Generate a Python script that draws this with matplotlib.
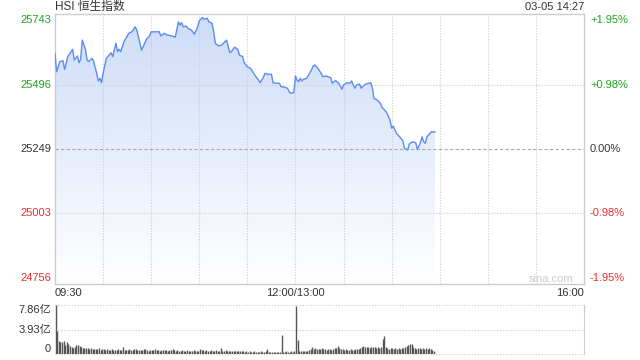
import numpy as np
import matplotlib.pyplot as plt
from matplotlib.colors import LinearSegmentedColormap
from matplotlib.transforms import blended_transform_factory

plt.rcParams['font.family'] = ['Liberation Sans', 'Noto Sans CJK SC', 'DejaVu Sans']

# price readings: minute index since 09:30 (lunch break removed) and index level
minutes = [0, 1, 3, 5, 6, 8, 11, 12, 14, 15, 16, 17, 19, 20, 21, 23, 24, 26, 27, 28,
           29, 30, 32, 33, 35, 36, 38, 39, 40, 41, 43, 46, 48, 50, 51, 53, 54, 55, 57, 59,
           60, 62, 65, 66, 68, 70, 73, 75, 77, 78, 79, 80, 82, 83, 85, 87, 89, 90, 92, 93,
           95, 96, 98, 99, 100, 102, 104, 105, 107, 109, 110, 112, 114, 115, 117, 118, 120, 122, 124, 125,
           127, 128, 130, 131, 133, 135, 136, 138, 140, 141, 143, 145, 146, 147, 149, 150, 151, 152, 153, 154,
           155, 157, 160, 161, 162, 164, 166, 167, 169, 172, 173, 175, 177, 179, 180, 182, 184, 185, 187, 188,
           190, 191, 193, 194, 197, 198, 199, 201, 203, 204, 206, 207, 209, 210, 211, 213, 215, 217, 218, 220,
           221, 223, 225, 226, 228, 229, 230, 231, 232, 234, 235, 237]
prices = [25616, 25545, 25584, 25587, 25554, 25603, 25631, 25590, 25605, 25580, 25593, 25666, 25631, 25590, 25584, 25596, 25587, 25539, 25510, 25520,
          25503, 25539, 25596, 25603, 25618, 25603, 25654, 25622, 25631, 25622, 25660, 25692, 25698, 25717, 25705, 25654, 25628, 25641, 25669, 25682,
          25698, 25698, 25698, 25682, 25692, 25686, 25682, 25677, 25736, 25724, 25733, 25717, 25720, 25711, 25705, 25689, 25717, 25740, 25753, 25746,
          25750, 25736, 25730, 25698, 25654, 25644, 25647, 25654, 25666, 25618, 25622, 25639, 25631, 25609, 25603, 25580, 25564, 25558, 25539, 25529,
          25513, 25503, 25524, 25539, 25535, 25536, 25503, 25501, 25501, 25488, 25486, 25482, 25469, 25463, 25465, 25529, 25513, 25507, 25520, 25510,
          25516, 25520, 25552, 25567, 25571, 25558, 25539, 25526, 25529, 25522, 25501, 25511, 25501, 25478, 25494, 25503, 25501, 25510, 25482, 25494,
          25498, 25482, 25494, 25498, 25503, 25482, 25443, 25437, 25424, 25409, 25396, 25388, 25360, 25329, 25337, 25310, 25296, 25281, 25252, 25246,
          25269, 25277, 25274, 25248, 25274, 25296, 25277, 25271, 25296, 25310, 25316, 25314]

# volume per minute, in 亿
volume = [7.86, 3.70, 2.10, 1.90, 1.95, 2.10, 1.50, 1.85, 1.60, 1.30,
          1.10, 1.00, 1.05, 1.40, 1.40, 1.30, 1.20, 1.00, 0.95, 0.90,
          0.95, 0.80, 0.90, 0.85, 0.80, 0.75, 0.85, 0.90, 0.70, 0.75,
          0.80, 0.70, 0.75, 0.65, 0.70, 0.80, 0.65, 0.70, 0.60, 0.75,
          0.70, 0.65, 1.10, 0.60, 0.70, 0.65, 0.75, 0.60, 0.70, 0.75,
          0.80, 0.65, 0.60, 0.70, 0.65, 0.75, 0.80, 0.60, 0.55, 0.65,
          0.70, 0.60, 0.75, 0.65, 0.60, 0.55, 0.70, 0.60, 0.65, 0.60,
          0.55, 0.65, 0.60, 0.75, 0.60, 0.55, 0.60, 0.50, 0.55, 0.60,
          0.50, 0.55, 0.60, 0.50, 0.55, 0.50, 0.60, 0.55, 0.50, 0.55,
          0.75, 0.60, 0.70, 0.55, 0.60, 0.50, 0.55, 0.60, 0.50, 0.55,
          0.60, 0.55, 0.50, 0.95, 0.55, 0.50, 0.60, 0.55, 0.50, 0.55,
          0.50, 0.45, 0.55, 0.50, 0.45, 0.50, 0.55, 0.45, 0.40, 0.45,
          0.40, 0.45, 0.40, 0.35, 0.45, 0.40, 0.35, 0.40, 0.45, 0.40,
          0.35, 0.50, 0.80, 0.40, 0.35, 0.30, 0.25, 0.35, 0.30, 0.35,
          0.30, 3.00, 0.30, 0.35, 0.45, 0.30, 0.40, 0.55, 0.35, 0.45,
          7.75, 2.20, 0.55, 0.50, 0.45, 0.50, 0.55, 0.45, 0.60, 0.85,
          1.10, 0.80, 0.95, 0.85, 0.75, 0.80, 0.90, 0.75, 0.80, 0.70,
          0.85, 0.75, 0.70, 0.80, 0.90, 1.00, 1.30, 1.00, 0.80, 0.75,
          0.70, 0.75, 0.65, 0.70, 0.75, 0.65, 0.70, 0.80, 0.75, 0.85,
          0.95, 1.15, 1.30, 1.10, 1.05, 1.10, 1.00, 1.15, 1.05, 1.10,
          1.00, 1.10, 0.95, 1.05, 2.40, 2.90, 1.10, 0.95, 0.85, 1.00,
          0.90, 0.85, 0.95, 0.80, 0.90, 0.85, 1.00, 0.90, 1.10, 1.25,
          1.40, 1.55, 1.60, 1.10, 0.95, 0.85, 0.90, 0.95, 0.80, 0.90,
          0.85, 0.95, 0.80, 0.90, 0.75, 0.70, 0.45]

prev_close = 25249
price_ticks = [25743, 25496, 25249, 25003, 24756]
pct_labels = ['+1.95%', '+0.98%', '0.00%', '-0.98%', '-1.95%']
vol_ticks = [7.86, 3.93, 0]
vol_labels = ['7.86亿', '3.93亿', '0']

GREEN = '#1ea31e'
RED = '#f02c2c'
DARK = '#333333'
GRID = '#cccccc'
tick_colors = [GREEN, GREEN, DARK, RED, RED]

fig = plt.figure(figsize=(6.4, 3.6), dpi=100)
ax = fig.add_axes([55 / 640, 1 - 284 / 360, 529 / 640, 270 / 360])
axv = fig.add_axes([55 / 640, 1 - 354 / 360, 529 / 640, 49 / 360])

ylo, yhi = 24733, 25766
ax.set_xlim(0, 330)
ax.set_ylim(ylo, yhi)

# gradient fill under the line
poly = ax.fill_between(minutes, prices, ylo, color='none', lw=0)
cmap = LinearSegmentedColormap.from_list('g', ['#ffffff', '#cddcf8'])
grad = np.linspace(0, 1, 256).reshape(-1, 1)
im = ax.imshow(grad, cmap=cmap, aspect='auto', origin='lower',
               extent=[0, 330, ylo, yhi], zorder=1)
im.set_clip_path(poly.get_paths()[0], transform=ax.transData)
ax.plot(minutes, prices, color='#5a8df0', lw=1.0, zorder=3)
ax.set_xlim(0, 330)
ax.set_ylim(ylo, yhi)

for v in [25496, 25003]:
    ax.axhline(v, color=GRID, lw=0.8, ls=(0, (1, 1.5)), zorder=2)
ax.axhline(prev_close, color='#aaaaaa', lw=0.8, ls=(0, (3, 2)), zorder=2)
for m in range(30, 330, 30):
    ax.axvline(m, color=GRID, lw=0.8, ls=(0, (1, 1.5)), zorder=2)

for s in ax.spines.values():
    s.set_color(GRID)
    s.set_linewidth(1)
ax.set_xticks([])
ax.set_yticks([])

ty = blended_transform_factory(fig.transFigure, ax.transData)
for v, lab, c in zip(price_ticks, pct_labels, tick_colors):
    fig.text(51 / 640, v, str(v), transform=ty, ha='right', va='center', fontsize=8, color=c)
    fig.text(590 / 640, v, lab, transform=ty, ha='left', va='center', fontsize=8, color=c)

fig.text(55 / 640, 1 - 7 / 360, 'HSI 恒生指数', ha='left', va='center', fontsize=8.5, color=DARK)
fig.text(584 / 640, 1 - 7 / 360, '03-05 14:27', ha='right', va='center', fontsize=8, color=DARK)
fig.text(55 / 640, 1 - 293 / 360, '09:30', ha='left', va='center', fontsize=8, color=DARK)
fig.text(295 / 640, 1 - 293 / 360, '12:00/13:00', ha='center', va='center', fontsize=8, color=DARK)
fig.text(584 / 640, 1 - 293 / 360, '16:00', ha='right', va='center', fontsize=8, color=DARK)
fig.text(573 / 640, 1 - 279 / 360, 'sina.com', ha='right', va='center', fontsize=8, color='#cccccc')

# volume panel
vx = np.arange(len(volume)) + 0.4
axv.vlines(vx, 0, volume, colors='#555555', lw=1.0, zorder=3)
axv.set_xlim(0, 330)
axv.set_ylim(0, 7.86)
for v in vol_ticks:
    axv.axhline(v, color=GRID, lw=0.8, ls=(0, (1, 1.5)), zorder=1, clip_on=False)
for s in ['top', 'bottom', 'left']:
    axv.spines[s].set_visible(False)
axv.spines['right'].set_color(GRID)
axv.set_xticks([])
axv.set_yticks([])
tv = blended_transform_factory(fig.transFigure, axv.transData)
for v, lab, va in zip(vol_ticks, vol_labels, ['top', 'center', 'bottom']):
    fig.text(51 / 640, v, lab, transform=tv, ha='right', va=va, fontsize=8, color=DARK)

fig.savefig('out.png', dpi=100)
